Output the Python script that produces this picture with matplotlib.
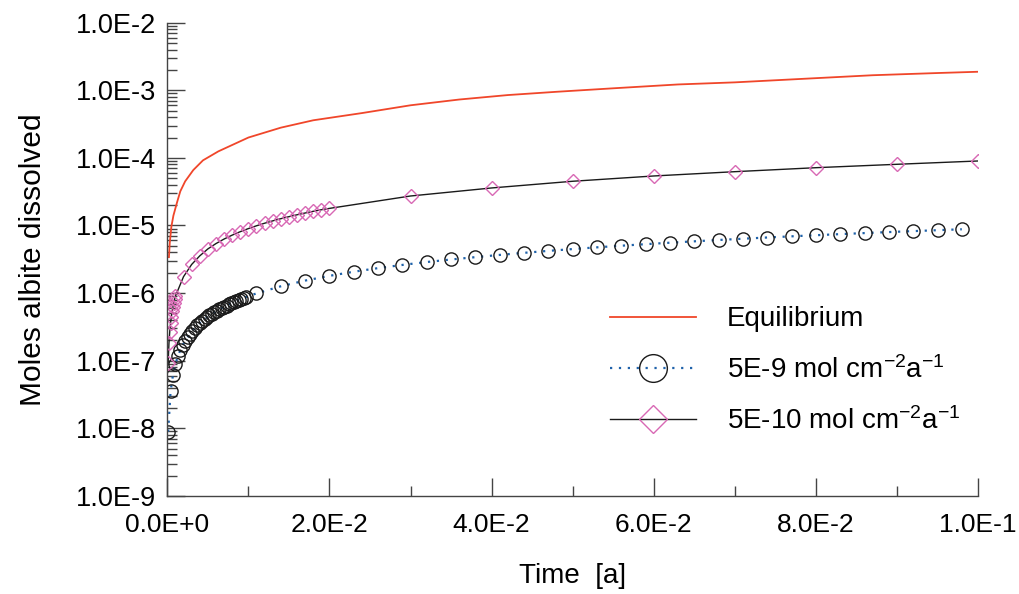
import numpy as np
import matplotlib
matplotlib.use("Agg")
import matplotlib.pyplot as plt
from matplotlib.ticker import FixedLocator, LogLocator, FuncFormatter, NullFormatter

plt.rcParams["font.family"] = ["Liberation Sans", "DejaVu Sans"]
plt.rcParams["mathtext.default"] = "regular"

# equilibrium curve
t_eq = [0.0002, 0.0003, 0.0005, 0.00075, 0.0012, 0.0016, 0.0022, 0.0032, 0.0044, 0.0063,
        0.010, 0.014, 0.018, 0.024, 0.030, 0.036, 0.042, 0.048, 0.055, 0.063,
        0.070, 0.079, 0.087, 0.095, 0.100]
m_eq = [3.4e-6, 5.5e-6, 9.6e-6, 1.4e-5, 2.2e-5, 3.2e-5, 4.5e-5, 6.6e-5, 9.2e-5, 1.25e-4,
        2.0e-4, 2.8e-4, 3.6e-4, 4.6e-4, 6.0e-4, 7.3e-4, 8.5e-4, 9.5e-4, 1.07e-3, 1.22e-3,
        1.31e-3, 1.49e-3, 1.67e-3, 1.80e-3, 1.88e-3]

# 5E-9 rate series (circles)
t_r9 = [0.0001, 0.0004, 0.0007, 0.0010, 0.0013, 0.0016, 0.0019, 0.0022, 0.0025, 0.0028,
        0.0031, 0.0034, 0.0037, 0.0040, 0.0043, 0.0046, 0.0049, 0.0052, 0.0055, 0.0058,
        0.0061, 0.0064, 0.0067, 0.0070, 0.0073, 0.0076, 0.0079, 0.0082, 0.0085, 0.0088,
        0.0091, 0.0094, 0.0097,
        0.011, 0.014, 0.017, 0.020, 0.023, 0.026, 0.029, 0.032, 0.035, 0.038,
        0.041, 0.044, 0.047, 0.050, 0.053, 0.056, 0.059, 0.062, 0.065, 0.068,
        0.071, 0.074, 0.077, 0.080, 0.083, 0.086, 0.089, 0.092, 0.095, 0.098]
m_r9 = [8.9e-9, 3.5e-8, 6.2e-8, 8.9e-8, 1.16e-7, 1.43e-7, 1.70e-7, 1.97e-7, 2.24e-7, 2.51e-7,
        2.78e-7, 3.05e-7, 3.32e-7, 3.59e-7, 3.86e-7, 4.13e-7, 4.40e-7, 4.67e-7, 4.94e-7, 5.20e-7,
        5.47e-7, 5.74e-7, 6.01e-7, 6.28e-7, 6.55e-7, 6.82e-7, 7.09e-7, 7.36e-7, 7.63e-7, 7.90e-7,
        8.17e-7, 8.44e-7, 8.71e-7,
        9.9e-7, 1.26e-6, 1.53e-6, 1.80e-6, 2.07e-6, 2.34e-6, 2.61e-6, 2.88e-6, 3.14e-6, 3.40e-6,
        3.67e-6, 3.94e-6, 4.21e-6, 4.48e-6, 4.75e-6, 5.02e-6, 5.29e-6, 5.56e-6, 5.83e-6, 6.10e-6,
        6.37e-6, 6.64e-6, 6.91e-6, 7.18e-6, 7.45e-6, 7.72e-6, 7.99e-6, 8.25e-6, 8.52e-6, 8.79e-6]

# 5E-10 rate series (diamonds)
t_r10 = [0.0001, 0.0002, 0.0003, 0.0004, 0.0005, 0.0006, 0.0007, 0.0008, 0.0009,
         0.001, 0.002, 0.003, 0.004, 0.005, 0.006, 0.007, 0.008, 0.009, 0.010,
         0.011, 0.012, 0.013, 0.014, 0.015, 0.016, 0.017, 0.018, 0.019, 0.020,
         0.03, 0.04, 0.05, 0.06, 0.07, 0.08, 0.09, 0.10]
m_r10 = [9.2e-8, 1.8e-7, 2.7e-7, 3.6e-7, 4.5e-7, 5.4e-7, 6.3e-7, 7.2e-7, 8.1e-7,
         9.0e-7, 1.75e-6, 2.65e-6, 3.55e-6, 4.5e-6, 5.4e-6, 6.3e-6, 7.2e-6, 8.1e-6, 9.0e-6,
         9.9e-6, 1.08e-5, 1.17e-5, 1.26e-5, 1.35e-5, 1.44e-5, 1.53e-5, 1.62e-5, 1.71e-5, 1.79e-5,
         2.73e-5, 3.59e-5, 4.51e-5, 5.40e-5, 6.25e-5, 7.16e-5, 8.04e-5, 9.0e-5]

labels = ["Equilibrium", "5E-9 mol cm$^{-2}$a$^{-1}$", "5E-10 mol cm$^{-2}$a$^{-1}$"]
x_ticks = [0.0, 0.02, 0.04, 0.06, 0.08, 0.10]
x_minor = [0.01, 0.03, 0.05, 0.07, 0.09]


def sci_label(v, pos=None):
    # 0.0E+0, 2.0E-2, ... like the original software
    if v == 0:
        return "0.0E+0"
    m, e = f"{v:.1E}".split("E")
    return f"{m}E{int(e):+d}"


fig = plt.figure(figsize=(10.19, 5.94), dpi=100)
ax = fig.add_axes([0.1642, 0.1652, 0.7956, 0.7966])

ax.plot(t_eq, m_eq, color="#f0462a", lw=1.3, label=labels[0])
ax.plot(t_r9, m_r9, color="#1f62aa", lw=1.6, ls=(0, (1, 3)), marker="o", ms=9.5,
        mfc="none", mec="#1a1a1a", mew=1.0, label=labels[1])
ax.plot(t_r10, m_r10, color="#1a1a1a", lw=1.0, marker="D", ms=7,
        mfc="none", mec="#d868b4", mew=1.0, label=labels[2])

ax.set_yscale("log")
ax.set_xlim(0, 0.1)
ax.set_ylim(1e-9, 1e-2)

ax.xaxis.set_major_locator(FixedLocator(x_ticks))
ax.xaxis.set_minor_locator(FixedLocator(x_minor))
ax.xaxis.set_major_formatter(FuncFormatter(sci_label))
ax.yaxis.set_major_locator(LogLocator(base=10, numticks=20))
ax.yaxis.set_minor_locator(LogLocator(base=10, subs=np.arange(2, 10), numticks=20))
ax.yaxis.set_major_formatter(FuncFormatter(lambda v, p: f"1.0E{int(round(np.log10(v)))}"))
ax.yaxis.set_minor_formatter(NullFormatter())

ax.tick_params(which="both", direction="in", colors="#444444", labelcolor="black")
ax.tick_params(axis="y", labelsize=19.5, pad=8)
ax.tick_params(axis="x", labelsize=19, pad=12)
ax.tick_params(which="major", length=13, width=1.0)
ax.tick_params(which="minor", length=7, width=1.0)

for s in ["top", "right"]:
    ax.spines[s].set_visible(False)
for s in ["left", "bottom"]:
    ax.spines[s].set_color("#444444")
    ax.spines[s].set_linewidth(1.0)

ax.set_xlabel("Time  [a]", fontsize=20)
ax.set_ylabel("Moles albite dissolved", fontsize=21.5)
ax.xaxis.set_label_coords(0.5, -0.142)
ax.yaxis.set_label_coords(-0.148, 0.5)

leg = ax.legend(loc="center left", bbox_to_anchor=(0.5986, 0.376), bbox_transform=fig.transFigure,
                frameon=False, fontsize=20, markerscale=2.1, handlelength=3.1, handletextpad=1.1,
                labelspacing=0.85, borderpad=0, borderaxespad=0)

fig.savefig("out.png", dpi=100)
